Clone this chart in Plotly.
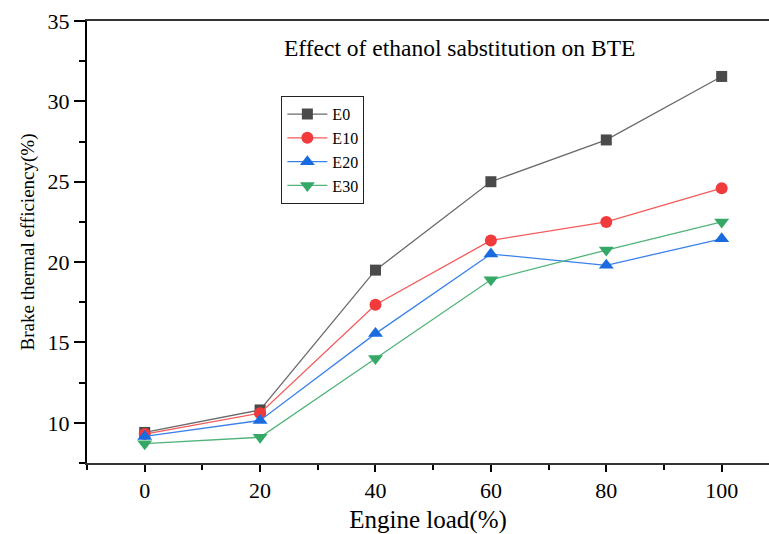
import plotly.graph_objects as go

loads = [0, 20, 40, 60, 80, 100]
e0 = [9.4, 10.8, 19.5, 25.0, 27.6, 31.55]
e10 = [9.3, 10.6, 17.35, 21.35, 22.5, 24.6]
e20 = [9.15, 10.15, 15.55, 20.5, 19.8, 21.45]
e30 = [8.7, 9.1, 14.0, 18.9, 20.75, 22.5]

series = [
    ("E0", e0, "#4a4a4a", "#6a6a6a", "square", 11),
    ("E10", e10, "#f03a3c", "#f55a5a", "circle", 12),
    ("E20", e20, "#1a6be0", "#3a82ea", "triangle-up", 13),
    ("E30", e30, "#35a866", "#50b47a", "triangle-down", 13),
]

font_family = "Liberation Serif"

fig = go.Figure()
for name, vals, mc, lc, sym, sz in series:
    fig.add_trace(go.Scatter(
        x=loads, y=vals, name=name, mode="lines+markers",
        line=dict(color=lc, width=1.3),
        marker=dict(symbol=sym, size=sz, color=mc, line=dict(width=0)),
    ))

fig.update_layout(
    width=769, height=534,
    margin=dict(l=87, r=0, t=21, b=71),
    plot_bgcolor="white", paper_bgcolor="white",
    font=dict(family=font_family, color="black", size=20),
    showlegend=True,
    legend=dict(
        x=0.285, y=0.83, xanchor="left", yanchor="top",
        bordercolor="#222", borderwidth=1, bgcolor="white",
        font=dict(family=font_family, size=16, color="black"),
        tracegroupgap=0, itemsizing="trace", itemwidth=40,
    ),
    annotations=[dict(
        text="Effect of ethanol sabstitution on BTE",
        x=0.546, y=0.939, xref="paper", yref="paper",
        xanchor="center", yanchor="middle", showarrow=False,
        font=dict(family=font_family, size=23.5, color="black"),
    )],
)

fig.update_xaxes(
    range=[-10, 108.2], tickvals=loads, ticktext=[str(v) for v in loads],
    showgrid=False, zeroline=False,
    showline=True, linecolor="#333", linewidth=2, mirror=True,
    ticks="outside", ticklen=7, tickwidth=2, tickcolor="black",
    minor=dict(tickvals=[-10, 10, 30, 50, 70, 90], ticks="outside", ticklen=5, tickwidth=2, tickcolor="black"),
    tickfont=dict(family=font_family, size=22),
    title=dict(text="Engine load(%)", font=dict(family=font_family, size=25), standoff=11),
)
fig.update_yaxes(
    range=[7.5, 35], tickvals=[10, 15, 20, 25, 30, 35],
    showgrid=False, zeroline=False,
    showline=True, linecolor="black", linewidth=2, mirror=False,
    ticks="outside", ticklen=11, tickwidth=2, tickcolor="black",
    minor=dict(tickvals=[7.5, 12.5, 17.5, 22.5, 27.5, 32.5], ticks="outside", ticklen=6, tickwidth=2, tickcolor="black"),
    tickfont=dict(family=font_family, size=22),
    title=dict(text="Brake thermal efficiency(%)", font=dict(family=font_family, size=19), standoff=8),
)

fig.write_html("out.html")
